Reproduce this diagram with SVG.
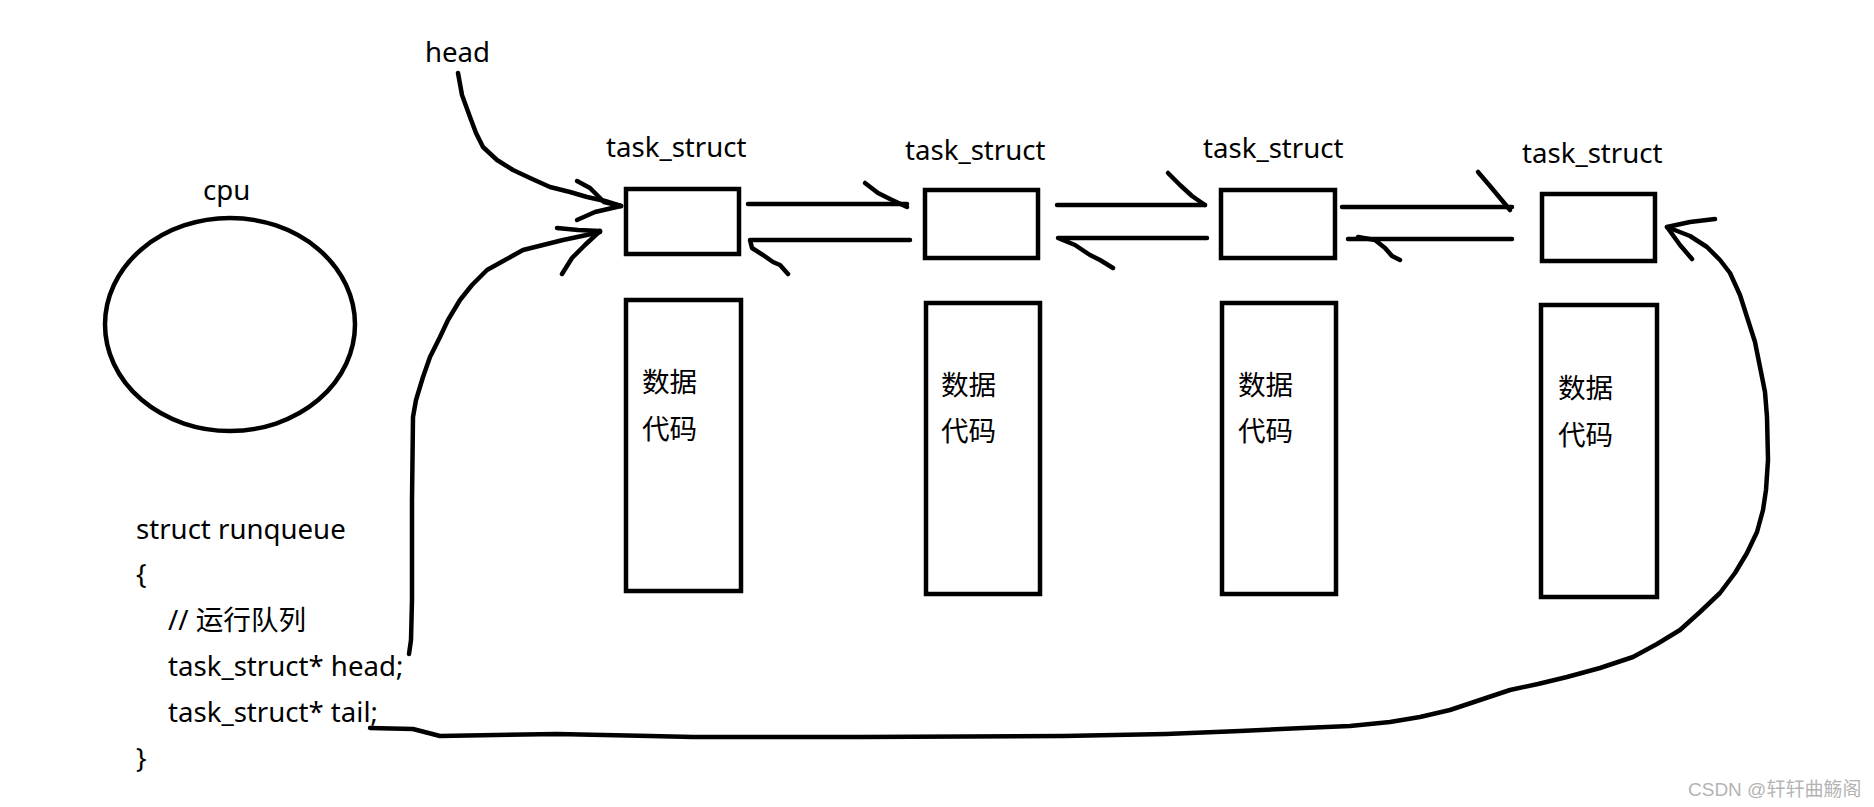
<svg xmlns="http://www.w3.org/2000/svg" width="1874" height="807" viewBox="0 0 1874 807">
<style>
.box{fill:none;stroke:#000;stroke-width:4.5}
.ln{fill:none;stroke:#000;stroke-width:4.5;stroke-linejoin:round;stroke-linecap:round}
.t{font-family:"Noto Sans","Noto Sans CJK SC",sans-serif;font-size:27.6px;fill:#000}
.wm{font-family:"Liberation Sans","Noto Sans CJK SC",sans-serif;font-size:19px;fill:#b4b4b4}
</style>
<rect width="1874" height="807" fill="#fff"/>
<g id="head-label"><text class="t" x="425" y="62">head</text></g>
<g id="cpu">
<text class="t" x="203" y="200">cpu</text>
<ellipse cx="230" cy="324.5" rx="125" ry="106.5" fill="none" stroke="#000" stroke-width="4.5"/>
</g>
<g id="runqueue">
<text class="t" x="136" y="539">struct runqueue</text>
<text class="t" x="136" y="584">{</text>
<text class="t" x="168" y="630">// 运行队列</text>
<text class="t" x="168" y="676">task_struct* head;</text>
<text class="t" x="168" y="722">task_struct* tail;</text>
<text class="t" x="136" y="768">}</text>
</g>
<g id="task1">
<text class="t" x="606" y="157">task_struct</text>
<rect class="box" x="626" y="189" width="113" height="65"/>
<rect class="box" x="626" y="300" width="115" height="291"/>
<text class="t" x="642" y="392">数据</text>
<text class="t" x="642" y="439">代码</text>
</g>
<g id="task2">
<text class="t" x="905" y="160">task_struct</text>
<rect class="box" x="925" y="190" width="113" height="68"/>
<rect class="box" x="926" y="303" width="114" height="291"/>
<text class="t" x="941" y="395">数据</text>
<text class="t" x="941" y="441">代码</text>
</g>
<g id="task3">
<text class="t" x="1203" y="158">task_struct</text>
<rect class="box" x="1221" y="190" width="114" height="68"/>
<rect class="box" x="1222" y="303" width="114" height="291"/>
<text class="t" x="1238" y="395">数据</text>
<text class="t" x="1238" y="441">代码</text>
</g>
<g id="task4">
<text class="t" x="1522" y="163">task_struct</text>
<rect class="box" x="1542" y="194" width="113" height="67"/>
<rect class="box" x="1541" y="305" width="116" height="292"/>
<text class="t" x="1558" y="398">数据</text>
<text class="t" x="1558" y="445">代码</text>
</g>
<g id="connectors">
<polyline class="ln" points="458,73 462,95 470,117 476,133 483,147 497,160 513,170 530,178 550,187 570,192 587,197 605,201 621,206"/>
<polyline class="ln" points="577,181 590,188 604,202 621,206"/>
<polyline class="ln" points="577,220 595,212 621,206"/>
<polyline class="ln" points="409,654 411,640 412,600 412,500 413,417 416,400 423,377 430,357 440,337 448,320 460,300 472,285 487,270 505,260 523,250 543,245 563,240 582,236 600,232"/>
<polyline class="ln" points="557,228 578,230 600,231"/>
<polyline class="ln" points="562,274 572,258 585,245 600,231"/>
<polyline class="ln" points="748,204 907,204"/>
<polyline class="ln" points="865,183 878,193 890,199 907,207"/>
<polyline class="ln" points="910,240 750,240 752,248 763,255 773,262 780,265 788,274"/>
<polyline class="ln" points="1057,205 1205,205"/>
<polyline class="ln" points="1168,173 1180,185 1192,196 1205,205"/>
<polyline class="ln" points="1207,238 1058,238 1075,245 1090,255 1100,260 1113,268"/>
<polyline class="ln" points="1342,207 1512,207"/>
<polyline class="ln" points="1478,172 1490,186 1500,198 1510,210"/>
<polyline class="ln" points="1512,239 1348,239"/>
<polyline class="ln" points="1358,237 1375,240 1385,248 1392,256 1400,260"/>
<polyline class="ln" points="1667,227 1690,236 1707,247 1720,260 1730,273 1740,295 1747,317 1755,342 1760,367 1765,392 1767,417 1768,460 1766,490 1763,510 1757,532 1747,553 1735,573 1720,593 1700,612 1680,630 1657,644 1633,657 1600,668 1567,677 1538,684 1510,690 1480,700 1450,710 1420,717 1390,722 1350,726 1303,728 1240,731 1166,734 1063,736 860,737 693,737 650,736 557,734 440,736 413,729 370,728"/>
<polyline class="ln" points="1715,219 1690,222 1667,227 1680,245 1692,259"/>
</g>
<g id="watermark"><text class="wm" x="1688" y="796">CSDN @轩轩曲觞阁</text></g>
</svg>
